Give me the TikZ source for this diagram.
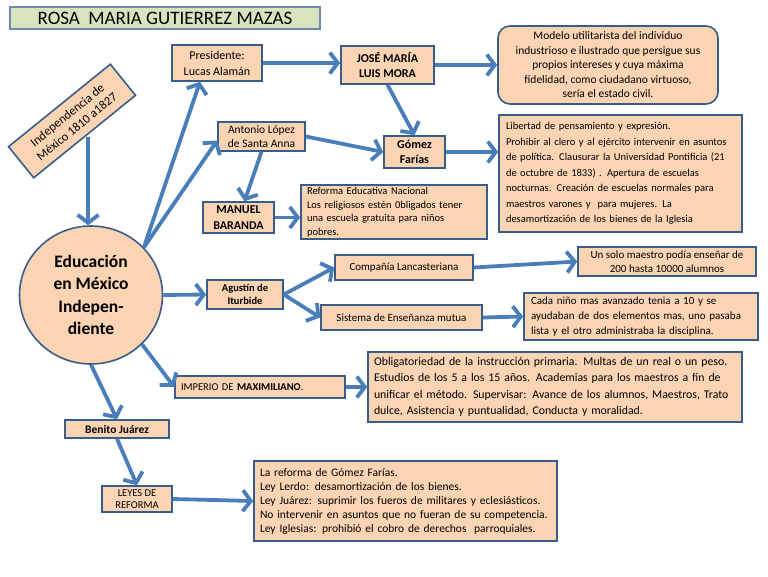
\documentclass[tikz,border=0pt]{standalone}
\usepackage{fontspec}
\setmainfont{Carlito}
\usetikzlibrary{arrows.meta,shapes.geometric}
\definecolor{peach}{HTML}{FBD4B4}
\definecolor{boxline}{HTML}{385D8A}
\definecolor{arrowblue}{HTML}{4A7EBB}
\definecolor{titlefill}{HTML}{D7E4BD}
\definecolor{titleline}{HTML}{6F8AAE}
\begin{document}
\begin{tikzpicture}[x=1pt,y=-1pt,
  box/.style={draw=boxline, fill=peach, line width=1.6pt, inner sep=2pt, align=center, text=black},
  lbox/.style={box, align=left},
  arr/.style={draw=arrowblue, line width=3.8pt, -{Straight Barb[length=8pt,width=21pt]}}]
\useasboundingbox[fill=white] (0,0) rectangle (768,576);

% title
\node[draw=titleline, fill=titlefill, line width=1.6pt, minimum width=310, minimum height=22,
  inner sep=0pt, font=\fontsize{19}{20}\selectfont] (title) at (165,18) {ROSA\ \ MARIA GUTIERREZ MAZAS};

% left column
\node[box, rotate=39, minimum width=131, minimum height=40, font=\fontsize{12.5}{15}\selectfont]
  (indep) at (72,121) {Independencia de\\México 1810 a1827};
\node[box, ellipse, minimum width=143, minimum height=138, font=\fontsize{17.5}{22.5}\selectfont\bfseries]
  (circ) at (91,295) {Educación\\en México\\Indepen-\\diente};

% upper branch
\node[box, minimum width=90, minimum height=36, font=\fontsize{12}{16}\selectfont]
  (pres) at (217,63) {Presidente:\\Lucas Alamán};
\node[box, minimum width=93, minimum height=38, font=\fontsize{12}{15}\selectfont\bfseries]
  (jose) at (387.5,65) {JOSÉ MARÍA\\LUIS MORA};
\node[box, rounded corners=12pt, minimum width=220, minimum height=78, font=\fontsize{11.5}{14.5}\selectfont]
  (modelo) at (608,65) {Modelo utilitarista del individuo\\industrioso e ilustrado que persigue sus\\propios intereses y cuya máxima\\fidelidad, como ciudadano virtuoso,\\sería el estado civil.};
\node[box, minimum width=87, minimum height=29, font=\fontsize{11.5}{14}\selectfont]
  (antonio) at (261.5,136.5) {Antonio López\\de Santa Anna};
\node[box, minimum width=61, minimum height=32, font=\fontsize{12}{15}\selectfont\bfseries]
  (gomez) at (414.5,152) {Gómez\\Farías};
\node[lbox, minimum width=243, minimum height=117, text width=229, font=\fontsize{10.5}{15.5}\selectfont]
  (libertad) at (620.5,173.5) {Libertad de pensamiento y expresión.\\Prohibir al clero y al ejército intervenir en asuntos\\de política. Clausurar la Universidad Pontificia (21\\de octubre de 1833) . Apertura de escuelas\\nocturnas. Creación de escuelas normales para\\maestros varones y\ \ para mujeres. La\\desamortización de los bienes de la Iglesia};
\node[box, minimum width=71, minimum height=31, font=\fontsize{12}{16}\selectfont\bfseries]
  (manuel) at (238.5,217.5) {MANUEL\\BARANDA};
\node[lbox, minimum width=186, minimum height=54, text width=174, font=\fontsize{10.5}{13.5}\selectfont]
  (reforma) at (394,212) {Reforma Educativa Nacional\\Los religiosos estén 0bligados tener\\una escuela gratuita para niños\\pobres.};

% middle branch
\node[box, minimum width=76, minimum height=29, font=\fontsize{10.5}{13}\selectfont\bfseries]
  (agustin) at (245,294.5) {Agustín de\\Iturbide};
\node[box, minimum width=138, minimum height=25, font=\fontsize{11}{13}\selectfont]
  (compania) at (404,267.5) {Compañía Lancasteriana};
\node[box, minimum width=161, minimum height=25, font=\fontsize{11}{13}\selectfont]
  (sistema) at (401.5,317.5) {Sistema de Enseñanza mutua};
\node[box, minimum width=178, minimum height=29, font=\fontsize{11}{14}\selectfont]
  (unsolo) at (667,261.5) {Un solo maestro podía enseñar de\\200 hasta 10000 alumnos};
\node[lbox, minimum width=234, minimum height=47, text width=220, font=\fontsize{11}{15}\selectfont]
  (cada) at (641,316.5) {Cada niño mas avanzado tenia a 10 y se\\ayudaban de dos elementos mas, uno pasaba\\lista y el otro administraba la disciplina.};

% lower branch
\node[lbox, minimum width=170, minimum height=22, text width=158, font=\fontsize{10.5}{13}\selectfont]
  (imperio) at (260,387) {IMPERIO DE \textbf{MAXIMILIANO}.};
\node[lbox, minimum width=374, minimum height=70, text width=362, font=\fontsize{11.8}{16.5}\selectfont]
  (obliga) at (555,387) {Obligatoriedad de la instrucción primaria. Multas de un real o un peso.\\Estudios de los 5 a los 15 años. Academias para los maestros a fin de\\unificar el método. Supervisar: Avance de los alumnos, Maestros, Trato\\dulce, Asistencia y puntualidad, Conducta y moralidad.};
\node[box, minimum width=104, minimum height=18, inner sep=1pt, font=\fontsize{11.5}{13}\selectfont\bfseries]
  (benito) at (117,429) {Benito Juárez};
\node[box, minimum width=70, minimum height=26, inner sep=0pt, font=\fontsize{10.5}{12}\selectfont]
  (leyes) at (137,499) {LEYES DE\\REFORMA};
\node[lbox, minimum width=303, minimum height=80, text width=291, font=\fontsize{11.5}{14}\selectfont]
  (lareforma) at (405.5,501) {La reforma de Gómez Farías.\\Ley Lerdo: desamortización de los bienes.\\Ley Juárez: suprimir los fueros de militares y eclesiásticos.\\No intervenir en asuntos que no fueran de su competencia.\\Ley Iglesias: prohibió el cobro de derechos\ \ parroquiales.};

% connectors
\draw[arr] ([xshift=3pt]indep.south) -- ([xshift=3pt]indep.south |- circ.north);
\draw[arr] (circ.42) -- ([xshift=-17pt]pres.south);
\draw[arr] (circ.42) -- ([yshift=-4pt]antonio.west);
\draw[arr] (pres.east) -- (pres.east -| jose.west);
\draw[arr] (jose.east) -- (jose.east -| modelo.west);
\draw[arr] (jose.south) -- (gomez.north);
\draw[arr] (antonio.east) -- (gomez.west);
\draw[arr] (gomez.east) -- (gomez.east -| libertad.west);
\draw[arr] (antonio.south) -- ([xshift=6pt]manuel.north);
\draw[arr] (manuel.east) -- (manuel.east -| reforma.west);
\draw[arr] (circ.east) -- (agustin.west);
\draw[arr] (agustin.east) -- (compania.west);
\draw[arr] (agustin.east) -- (sistema.west);
\draw[arr] (compania.east) -- (unsolo.west);
\draw[arr] (sistema.east) -- (cada.west);
\draw[arr] (circ.-44) -- (imperio.west);
\draw[arr] (imperio.east) -- (obliga.west);
\draw[arr] (circ.south) -- (benito.north);
\draw[arr] (benito.south) -- (leyes.north);
\draw[arr] (leyes.east) -- (lareforma.west);
\end{tikzpicture}
\end{document}
